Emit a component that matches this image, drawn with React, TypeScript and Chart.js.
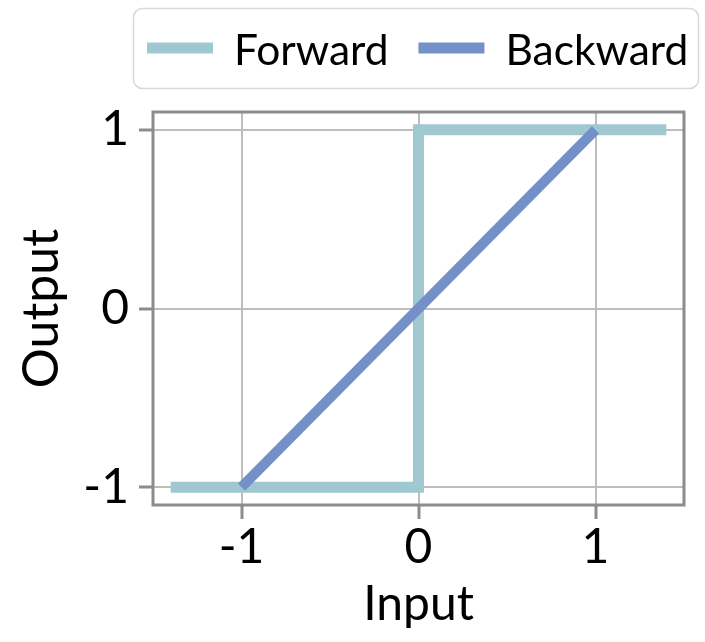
import React, { useEffect, useRef } from 'react';
import { Chart, registerables } from 'chart.js';

Chart.register(...registerables);

// ---- data ----
const seriesNames = ['Forward', 'Backward'];
const seriesColors = ['#9fc8d1', '#7391c8'];
const forwardX = [-1.4, 0, 0, 1.4];
const forwardY = [-1, -1, 1, 1];
const backwardX = [-1, 1];
const backwardY = [-1, 1];
const xTickValues = [-1, 0, 1];
const yTickValues = [-1, 0, 1];
const xRange = [-1.5, 1.5];
const yRange = [-1.1, 1.1];
const xTitle = 'Input';
const yTitle = 'Output';

const FONT = "Lato, 'DejaVu Sans', sans-serif";
const W = 705;
const H = 642;

const framePlugin = {
  id: 'frame',
  beforeDatasetsDraw(chart: any) {
    const { ctx, chartArea: a } = chart;
    ctx.save();
    ctx.strokeStyle = '#8c8c8c';
    ctx.lineWidth = 3;
    ctx.strokeRect(a.left, a.top, a.right - a.left, a.bottom - a.top);
    ctx.restore();
  },
};

const legendPlugin = {
  id: 'boxLegend',
  afterDraw(chart: any) {
    const { ctx } = chart;
    const ds = chart.data.datasets;
    ctx.save();
    ctx.font = `42.5px ${FONT}`;
    ctx.textBaseline = 'alphabetic';
    ctx.textAlign = 'left';
    const baseY = 65;
    const swatchY = 48;
    let x = 147;
    ds.forEach((d: any, i: number) => {
      if (i > 0) x += 30;
      ctx.fillStyle = d.borderColor;
      ctx.fillRect(x, swatchY - 5.5, 66, 11);
      x += 66 + 21;
      ctx.fillStyle = '#000';
      ctx.fillText(d.label, x, baseY);
      x += ctx.measureText(d.label).width;
    });
    const left = 133.5;
    const top = 8.5;
    const right = 698.5;
    const bottom = 88.5;
    const r = 9;
    ctx.beginPath();
    ctx.moveTo(left + r, top);
    ctx.lineTo(right - r, top);
    ctx.arcTo(right, top, right, top + r, r);
    ctx.lineTo(right, bottom - r);
    ctx.arcTo(right, bottom, right - r, bottom, r);
    ctx.lineTo(left + r, bottom);
    ctx.arcTo(left, bottom, left, bottom - r, r);
    ctx.lineTo(left, top + r);
    ctx.arcTo(left, top, left + r, top, r);
    ctx.closePath();
    ctx.strokeStyle = '#d8d8d8';
    ctx.lineWidth = 1.5;
    ctx.stroke();
    ctx.restore();
  },
};

export default function App() {
  const ref = useRef<HTMLCanvasElement | null>(null);

  useEffect(() => {
    if (!ref.current) return;
    const gridOpts = {
      color: '#bdbdbd',
      lineWidth: 2,
      drawTicks: true,
      tickLength: 14,
      tickColor: '#8c8c8c',
      tickWidth: 3,
    };
    const chart = new Chart(ref.current, {
      type: 'line',
      data: {
        datasets: [
          {
            label: seriesNames[0],
            data: forwardX.map((x, i) => ({ x, y: forwardY[i] })),
            borderColor: seriesColors[0],
            backgroundColor: seriesColors[0],
            borderWidth: 11,
            pointRadius: 0,
            borderCapStyle: 'butt',
            borderJoinStyle: 'miter',
            tension: 0,
            order: 1,
          },
          {
            label: seriesNames[1],
            data: backwardX.map((x, i) => ({ x, y: backwardY[i] })),
            borderColor: seriesColors[1],
            backgroundColor: seriesColors[1],
            borderWidth: 10,
            pointRadius: 0,
            borderCapStyle: 'butt',
            tension: 0,
            order: 0,
          },
        ],
      },
      options: {
        animation: false,
        responsive: false,
        devicePixelRatio: 1,
        layout: { padding: { top: 112, right: 21, bottom: 0, left: 0 } },
        plugins: { legend: { display: false }, tooltip: { enabled: false } },
        scales: {
          x: {
            type: 'linear',
            min: xRange[0],
            max: xRange[1],
            afterBuildTicks: (ax: any) => {
              ax.ticks = xTickValues.map((v) => ({ value: v }));
            },
            afterFit: (ax: any) => {
              ax.height = 137;
            },
            ticks: {
              font: { family: FONT, size: 48, lineHeight: 1 },
              color: '#000',
              padding: 5,
              maxRotation: 0,
              callback: (v: any) => String(v),
            },
            grid: gridOpts,
            border: { display: false },
            title: {
              display: true,
              text: xTitle,
              color: '#000',
              font: { family: FONT, size: 48, lineHeight: 1 },
              padding: { top: 0, bottom: 13 },
            },
          },
          y: {
            type: 'linear',
            min: yRange[0],
            max: yRange[1],
            afterBuildTicks: (ax: any) => {
              ax.ticks = yTickValues.map((v) => ({ value: v }));
            },
            afterFit: (ax: any) => {
              ax.width = 153;
            },
            ticks: {
              font: { family: FONT, size: 48, lineHeight: 1 },
              color: '#000',
              padding: 10,
              callback: (v: any) => String(v),
            },
            grid: gridOpts,
            border: { display: false },
            title: {
              display: true,
              text: yTitle,
              color: '#000',
              font: { family: FONT, size: 50, lineHeight: 1 },
              padding: { top: 17, bottom: 0 },
            },
          },
        },
      },
      plugins: [framePlugin, legendPlugin],
    } as any);
    return () => chart.destroy();
  }, []);

  return (
    <div style={{ position: 'absolute', left: 0, top: 0, width: W, height: H, background: '#fff' }}>
      <canvas ref={ref} width={W} height={H} style={{ display: 'block', width: W, height: H }} />
    </div>
  );
}
